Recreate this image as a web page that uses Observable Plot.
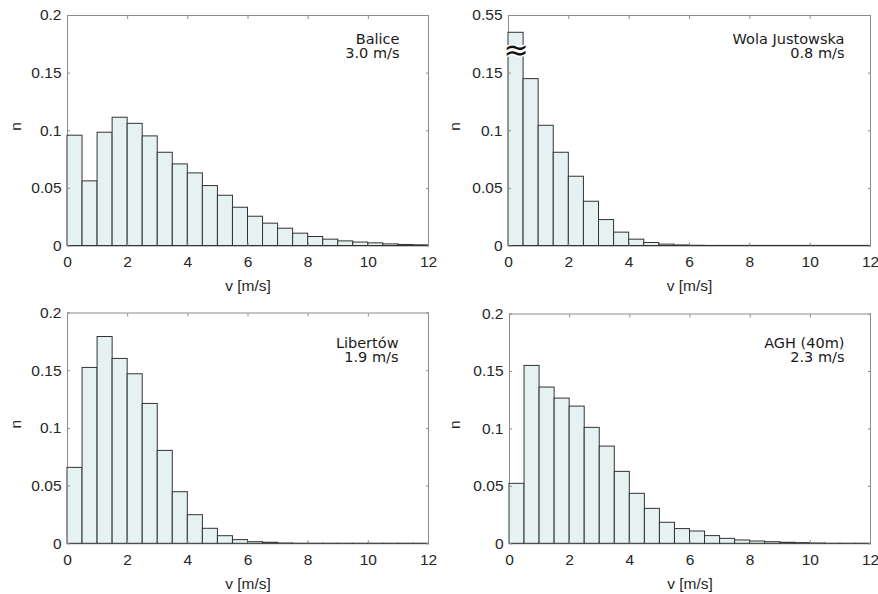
<!DOCTYPE html>
<html>
<head>
<meta charset="utf-8">
<script src="https://cdn.jsdelivr.net/npm/d3@7"></script>
<script src="https://cdn.jsdelivr.net/npm/@observablehq/plot@0.6"></script>
<style>
  body { margin: 0; background: #fff; }
  #wrap { position: relative; width: 878px; height: 594px; background: #fff; }
  .panel { position: absolute; }
  .panel svg { display: block; }
</style>
</head>
<body>
<div id="wrap"></div>
<script>
// Bin edges (m/s)
const binEdges = [0,0.5,1,1.5,2,2.5,3,3.5,4,4.5,5,5.5,6,6.5,7,7.5,8,8.5,9,9.5,10,10.5,11,11.5,12];

// Relative frequencies per bin
const balice   = [0.0957,0.0561,0.0983,0.1113,0.1060,0.0951,0.0809,0.0708,0.0630,0.0520,0.0436,0.0332,0.0254,0.0194,0.0150,0.0107,0.0078,0.0055,0.0040,0.0030,0.0023,0.0014,0.0009,0.0006];
const wola     = [0.535,0.1448,0.1043,0.0809,0.0601,0.0384,0.0225,0.0116,0.0055,0.0026,0.0012,0.0005,0.0002,0.0001,0.0001,0.0001,0.0001,0.0001,0.0001,0.0001,0.0001,0.0001,0.0001,0.0001];
const libertow = [0.0658,0.1524,0.1792,0.1602,0.1469,0.1212,0.0805,0.0447,0.0248,0.0130,0.0066,0.0032,0.0014,0.0009,0.0003,0.0001,0.0001,0.0001,0.0001,0.0001,0.0001,0.0001,0.0001,0.0001];
const agh      = [0.0522,0.1548,0.1360,0.1264,0.1194,0.1009,0.0846,0.0626,0.0435,0.0304,0.0183,0.0128,0.0107,0.0067,0.0043,0.0029,0.0020,0.0014,0.0009,0.0006,0.0003,0.0001,0.0001,0.0001];

// Station labels and mean speeds
const stations = ["Balice", "Wola Justowska", "Libertów", "AGH (40m)"];
const means = ["3.0 m/s", "0.8 m/s", "1.9 m/s", "2.3 m/s"];

// Ticks
const xTicks = [0,2,4,6,8,10,12];
const xTickLabels = ["0","2","4","6","8","10","12"];
const yTicks = [0,0.05,0.1,0.15,0.2];
const yTickLabels = ["0","0.05","0.1","0.15","0.2"];
const yTickLabelsBroken = ["0","0.05","0.1","0.15","0.55"];
const breakOffset = 0.35;   // broken axis: values above the break are shifted down by this
const breakAt = 0.17;       // display position of the break mark

const series = [balice, wola, libertow, agh];

const layout = [
  {left: 0,   top: 0,   ml: 67, mr: 11, mt: 15,   mb: 51.5, tdx: -29, tdy: 17.5},
  {left: 439, top: 0,   ml: 69, mr: 8,  mt: 15,   mb: 51.5, tdx: -26, tdy: 17.5},
  {left: 0,   top: 297, ml: 67, mr: 11, mt: 15.5, mb: 50.7, tdx: -30, tdy: 24},
  {left: 439, top: 297, ml: 70, mr: 8,  mt: 16.5, mb: 50.7, tdx: -26, tdy: 23}
];

const fillColor = "#e6f2f2";
const barStroke = "#333333";
const axisColor = "#8c8c8c";
const textColor = "#262626";

series.forEach((vals, i) => {
  const L = layout[i];
  const broken = i === 1;
  const data = vals.map((n, k) => ({x1: binEdges[k], x2: binEdges[k + 1], n}));
  const disp = d => (broken && d.n > 0.2 ? d.n - breakOffset : d.n);
  const yLabels = broken ? yTickLabelsBroken : yTickLabels;

  const marks = [
    Plot.frame({stroke: axisColor}),
    Plot.rectY(data, {x1: "x1", x2: "x2", y1: 0, y2: disp, fill: fillColor, stroke: barStroke, strokeWidth: 1, inset: 0}),
    // inward ticks on all four sides
    Plot.axisX(xTicks, {anchor: "bottom", tickSize: -3, text: null, label: null, stroke: axisColor}),
    Plot.axisX(xTicks, {anchor: "top", tickSize: -3, text: null, label: null, stroke: axisColor}),
    Plot.axisY(yTicks, {anchor: "left", tickSize: -3, text: null, label: null, stroke: axisColor}),
    Plot.axisY(yTicks, {anchor: "right", tickSize: -3, text: null, label: null, stroke: axisColor}),
    // tick labels
    Plot.axisX(xTicks, {anchor: "bottom", tickSize: 0, tickPadding: 10, tickFormat: (d, k) => xTickLabels[k], fontSize: 15.5, fill: textColor, label: null}),
    Plot.axisY(yTicks, {anchor: "left", tickSize: 0, tickPadding: 6, tickFormat: (d, k) => yLabels[k], fontSize: 15.5, fill: textColor, label: null}),
    // axis titles
    Plot.text(["v [m/s]"], {frameAnchor: "bottom", dy: 40, lineAnchor: "middle", fontSize: 15.5, fill: textColor}),
    Plot.text(["n"], {frameAnchor: "left", dx: 15.5 - L.ml, rotate: -90, lineAnchor: "middle", fontSize: 15.5, fill: textColor}),
    // annotation
    Plot.text([stations[i] + "\n" + means[i]], {frameAnchor: "top-right", dx: L.tdx, dy: L.tdy, textAnchor: "end", lineAnchor: "top", lineHeight: 1.02, fontSize: 14.5, fontFamily: "DejaVu Sans", fill: "#1a1a1a"})
  ];
  if (broken) {
    marks.push(Plot.text([{x: 0.25, y: breakAt}], {x: "x", y: "y", text: () => "≈", fontSize: 30, fontFamily: "DejaVu Sans", fill: "#111", stroke: "#fff", strokeWidth: 3, lineAnchor: "middle"}));
  }

  const chart = Plot.plot({
    width: 439,
    height: 297,
    marginLeft: L.ml,
    marginRight: L.mr,
    marginTop: L.mt,
    marginBottom: L.mb,
    style: {fontFamily: "'Liberation Sans', Arial, sans-serif", background: "#fff", overflow: "visible"},
    x: {domain: [0, 12], axis: null},
    y: {domain: [0, 0.2], axis: null},
    marks
  });
  const div = document.createElement("div");
  div.className = "panel";
  div.style.left = L.left + "px";
  div.style.top = L.top + "px";
  div.appendChild(chart);
  document.getElementById("wrap").appendChild(div);
});
</script>
</body>
</html>
